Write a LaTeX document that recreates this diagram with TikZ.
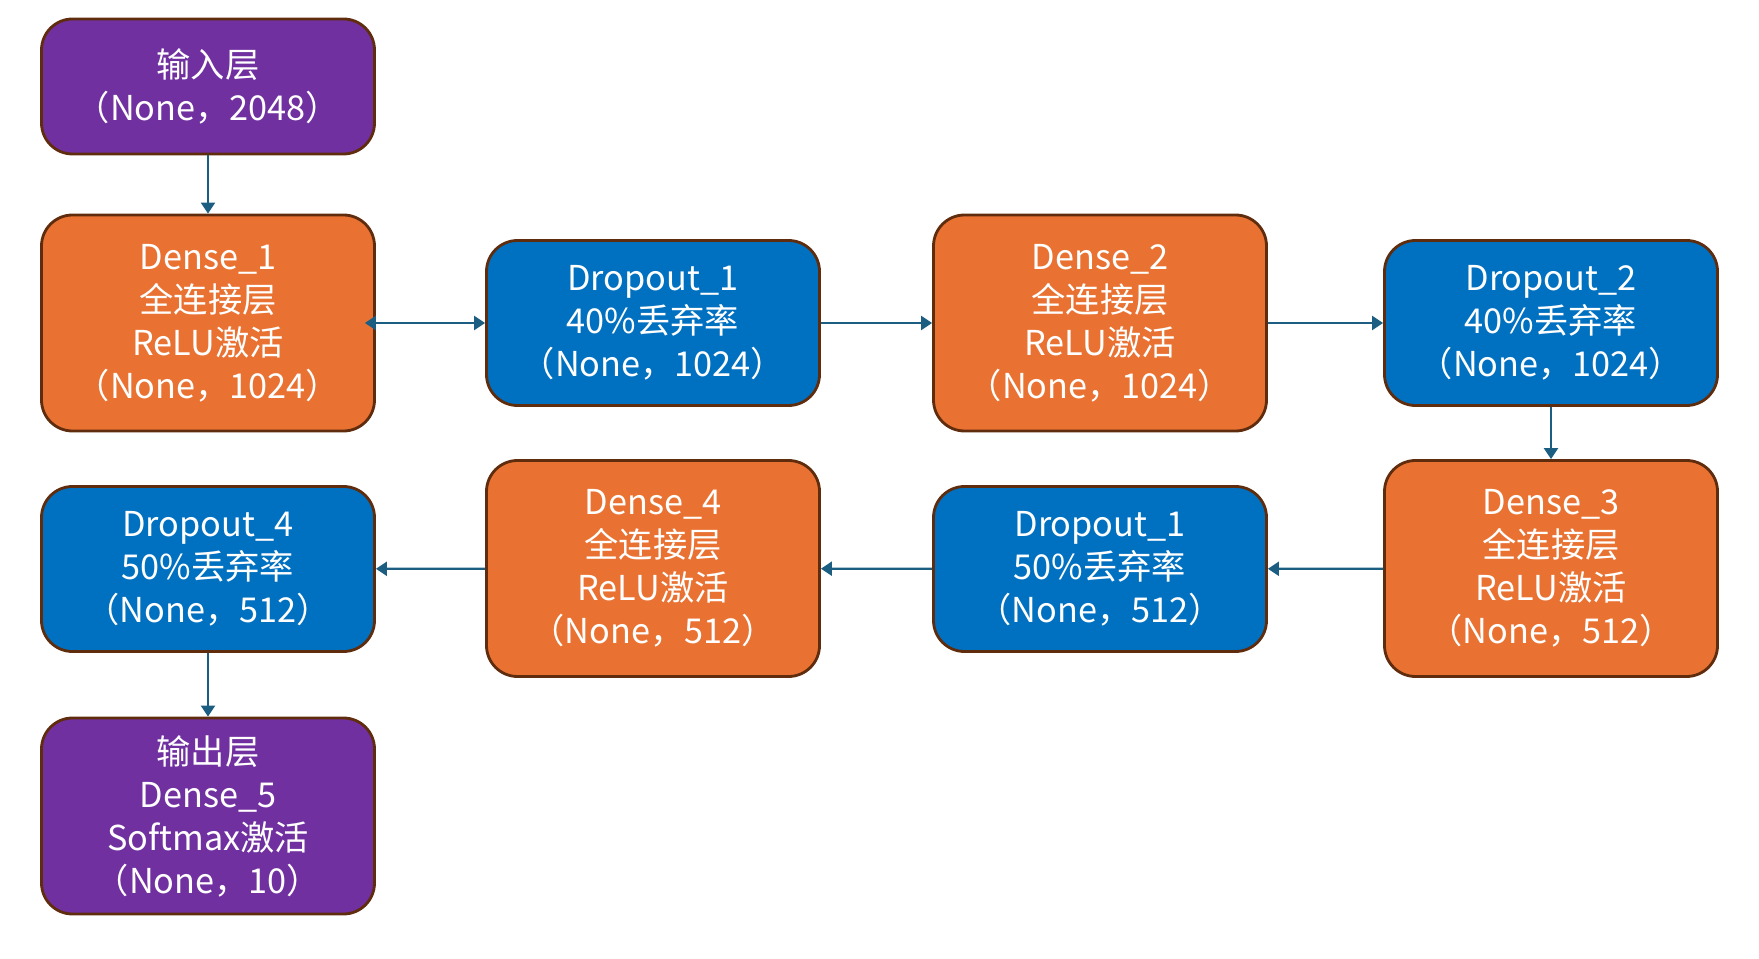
\documentclass[tikz,border=0pt]{standalone}
\usepackage{fontspec}
\setmainfont{Noto Sans CJK SC}
\usetikzlibrary{arrows.meta}

\definecolor{layerorange}{RGB}{233,114,50}
\definecolor{layerblue}{RGB}{0,112,192}
\definecolor{layerpurple}{RGB}{112,48,160}
\definecolor{layerborder}{RGB}{96,44,14}
\definecolor{linkblue}{RGB}{28,94,130}

\begin{document}
\begin{tikzpicture}[
    every node/.style={draw=layerborder, line width=1.6pt, rounded corners=0.62cm,
      text=white, align=center, inner sep=0pt, minimum width=6.66cm,
      font=\fontsize{19.5}{24.5}\selectfont},
    denselayer/.style={fill=layerorange, minimum height=4.32cm},
    droplayer/.style={fill=layerblue, minimum height=3.3cm},
    iolayer/.style={fill=layerpurple},
    link/.style={draw=linkblue, line width=1.3pt,
      -{Triangle[length=0.22cm,width=0.28cm]}},
    ]
  \useasboundingbox (0,0) rectangle (35.18,-19.18);
  % top row
  \node[iolayer, minimum height=2.7cm] (input) at (4.16,-1.73) {输入层\\（None，2048）};
  \node[denselayer] (dense1) at (4.16,-6.46) {Dense\_1\\全连接层\\ReLU激活\\（None，1024）};
  \node[droplayer] (drop1) at (13.06,-6.46) {Dropout\_1\\40\%丢弃率\\（None，1024）};
  \node[denselayer] (dense2) at (22.0,-6.46) {Dense\_2\\全连接层\\ReLU激活\\（None，1024）};
  \node[droplayer] (drop2) at (31.02,-6.46) {Dropout\_2\\40\%丢弃率\\（None，1024）};
  % bottom row
  \node[denselayer] (dense3) at (31.02,-11.37) {Dense\_3\\全连接层\\ReLU激活\\（None，512）};
  \node[droplayer] (drop3) at (22.0,-11.38) {Dropout\_1\\50\%丢弃率\\（None，512）};
  \node[denselayer] (dense4) at (13.06,-11.37) {Dense\_4\\全连接层\\ReLU激活\\（None，512）};
  \node[droplayer] (drop4) at (4.16,-11.38) {Dropout\_4\\50\%丢弃率\\（None，512）};
  \node[iolayer, minimum height=3.92cm] (output) at (4.16,-16.32) {输出层\\Dense\_5\\Softmax激活\\（None，10）};

  \draw[link] (input) -- (dense1);
  \draw[link, {Triangle[length=0.22cm,width=0.28cm]}-{Triangle[length=0.22cm,width=0.28cm]},
    shorten <=-0.22cm] (dense1.east) -- (drop1.west);
  \draw[link] (drop1) -- (dense2);
  \draw[link] (dense2) -- (drop2);
  \draw[link] (drop2) -- (dense3);
  \draw[link] (dense3) -- (drop3);
  \draw[link] (drop3) -- (dense4);
  \draw[link] (dense4) -- (drop4);
  \draw[link] (drop4) -- (output);
\end{tikzpicture}
\end{document}
